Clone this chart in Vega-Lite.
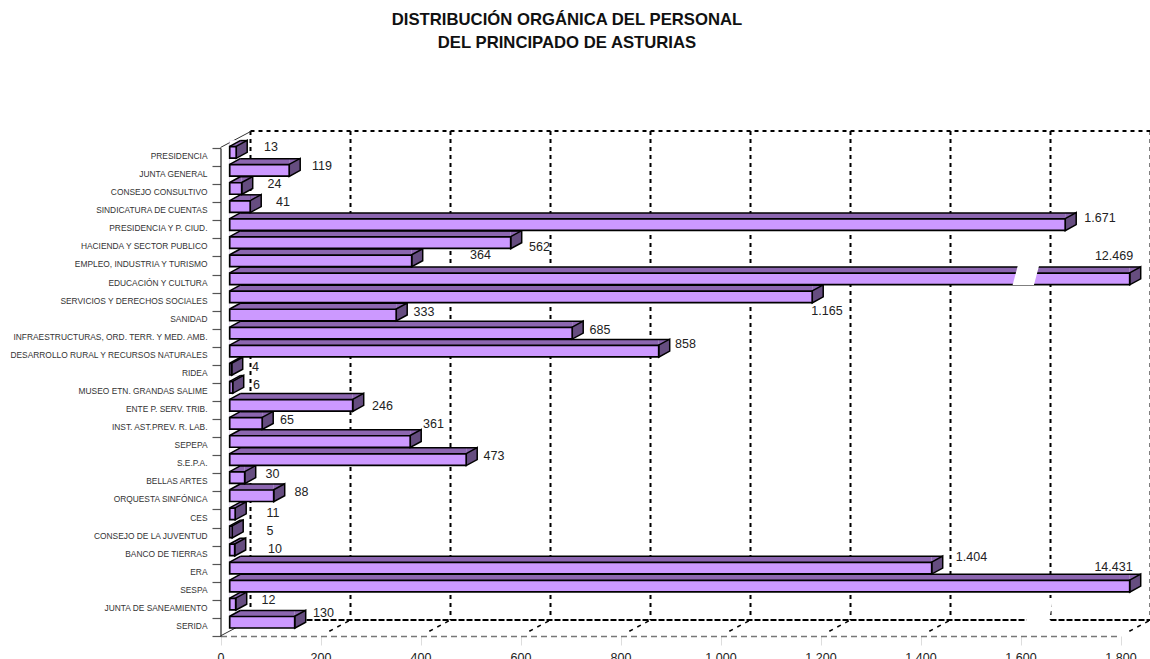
{"$schema":"https://vega.github.io/schema/vega-lite/v6.json","width":1150,"height":659,"padding":0,"autosize":{"type":"none"},"background":"white",
"config":{"view":{"stroke":null},"axisX":{"title":null},"axisY":{"title":null},"locale":{"number":{"decimal":",","thousands":".","grouping":[3],"currency":["","€"]}}},
"title":{"text":["DISTRIBUCIÓN ORGÁNICA DEL PERSONAL","DEL PRINCIPADO DE ASTURIAS"],"font":"Liberation Sans","fontSize":16.7,"fontWeight":"bold","color":"#111","lineHeight":23,"anchor":"middle","frame":"group","dx":-8,"offset":-68.5,"baseline":"alphabetic"},
"datasets":{"rows":[
{"name":"PRESIDENCIA","personal":13},{"name":"JUNTA GENERAL","personal":119},{"name":"CONSEJO CONSULTIVO","personal":24},{"name":"SINDICATURA DE CUENTAS","personal":41},{"name":"PRESIDENCIA Y P. CIUD.","personal":1671},{"name":"HACIENDA Y SECTOR PUBLICO","personal":562},{"name":"EMPLEO, INDUSTRIA Y TURISMO","personal":364},{"name":"EDUCACIÓN Y CULTURA","personal":12469},{"name":"SERVICIOS Y DERECHOS SOCIALES","personal":1165},{"name":"SANIDAD","personal":333},{"name":"INFRAESTRUCTURAS, ORD. TERR. Y MED. AMB.","personal":685},{"name":"DESARROLLO RURAL Y RECURSOS NATURALES","personal":858},{"name":"RIDEA","personal":4},{"name":"MUSEO ETN. GRANDAS SALIME","personal":6},{"name":"ENTE P. SERV. TRIB.","personal":246},{"name":"INST. AST.PREV. R. LAB.","personal":65},{"name":"SEPEPA","personal":361},{"name":"S.E.P.A.","personal":473},{"name":"BELLAS ARTES","personal":30},{"name":"ORQUESTA SINFÓNICA","personal":88},{"name":"CES","personal":11},{"name":"CONSEJO DE LA JUVENTUD","personal":5},{"name":"BANCO DE TIERRAS","personal":10},{"name":"ERA","personal":1404},{"name":"SESPA","personal":14431},{"name":"JUNTA DE SANEAMIENTO","personal":12},{"name":"SERIDA","personal":130}],
"ticks":[{"tick":0},{"tick":200},{"tick":400},{"tick":600},{"tick":800},{"tick":1000},{"tick":1200},{"tick":1400},{"tick":1600},{"tick":1800}]},
"data":{"name":"rows"},
"encoding":{
"y":{"field":"name","type":"nominal","sort":null,"title":null,"scale":{"domain":["PRESIDENCIA","JUNTA GENERAL","CONSEJO CONSULTIVO","SINDICATURA DE CUENTAS","PRESIDENCIA Y P. CIUD.","HACIENDA Y SECTOR PUBLICO","EMPLEO, INDUSTRIA Y TURISMO","EDUCACIÓN Y CULTURA","SERVICIOS Y DERECHOS SOCIALES","SANIDAD","INFRAESTRUCTURAS, ORD. TERR. Y MED. AMB.","DESARROLLO RURAL Y RECURSOS NATURALES","RIDEA","MUSEO ETN. GRANDAS SALIME","ENTE P. SERV. TRIB.","INST. AST.PREV. R. LAB.","SEPEPA","S.E.P.A.","BELLAS ARTES","ORQUESTA SINFÓNICA","CES","CONSEJO DE LA JUVENTUD","BANCO DE TIERRAS","ERA","SESPA","JUNTA DE SANEAMIENTO","SERIDA"],"range":[148,636],"paddingInner":0,"paddingOuter":0},"axis":{"offset":-220.5,"tickBand":"extent","tickSize":8.5,"tickColor":"#555","tickWidth":1.2,"domain":true,"domainColor":"#222","domainWidth":1.2,"labelFont":"Liberation Sans","labelFontSize":8.4,"labelColor":"#333","labelPadding":5,"labelOffset":-1.5,"labelLimit":300,"labelOverlap":false,"grid":false}},
"x":{"field":"personal","type":"quantitative","title":null,"stack":null,"scale":{"domain":[0,1800],"range":[220.5,1120.5],"clamp":true,"nice":false,"zero":false},"axis":{"offset":-23,"values":[0,200,400,600,800,1000,1200,1400,1600,1800],"format":",.0f","tickSize":9,"tickColor":"#ddd","domain":true,"domainColor":"#777","domainDash":[6,4],"domainWidth":1.6,"labelFont":"Liberation Sans","labelFontSize":12.5,"labelColor":"#222","labelPadding":6,"labelFlush":false,"grid":false}}},
"layer":[
{"data":{"name":"ticks"},"mark":{"type":"rule","xOffset":30,"yOffset":-26,"y2Offset":-7,"stroke":"#000","strokeWidth":2,"strokeDash":[4,4]},"encoding":{"x":{"field":"tick","type":"quantitative"},"y":{"datum":"PRESIDENCIA","type":"nominal"},"y2":{"datum":"SERIDA"}}},
{"transform":[{"filter":{"field":"name","equal":"PRESIDENCIA"}}],"mark":{"type":"rule","xOffset":30,"x2Offset":30,"yOffset":-26,"stroke":"#000","strokeWidth":2,"strokeDash":[4,4]},"encoding":{"x":{"datum":0,"type":"quantitative"},"x2":{"datum":1800}}},
{"transform":[{"filter":{"field":"name","equal":"SERIDA"}}],"mark":{"type":"rule","xOffset":30,"x2Offset":30,"yOffset":-7,"stroke":"#000","strokeWidth":2,"strokeDash":[6,2]},"encoding":{"x":{"datum":0,"type":"quantitative"},"x2":{"datum":1800}}},
{"data":{"name":"ticks"},"transform":[{"filter":"datum.tick>0"}],"mark":{"type":"point","shape":"M-1 .53L1 -.53","size":900,"xOffset":15,"yOffset":1,"filled":false,"stroke":"#000","strokeWidth":1.5,"strokeDash":[0,10,4,5,4,5,4,5],"opacity":1},"encoding":{"x":{"field":"tick","type":"quantitative"},"y":{"datum":"SERIDA","type":"nominal"}}},
{"transform":[{"filter":{"field":"name","equal":"PRESIDENCIA"}}],"mark":{"type":"point","shape":"M-1 .53L1 -.53","size":900,"xOffset":15,"yOffset":-17.5,"filled":false,"stroke":"#333","strokeWidth":1,"opacity":1},"encoding":{"x":{"datum":0,"type":"quantitative"}}},
{"transform":[{"filter":{"field":"name","equal":"SERIDA"}}],"mark":{"type":"point","shape":"M-1 .53L1 -.53","size":900,"xOffset":15,"yOffset":1,"filled":false,"stroke":"#333","strokeWidth":1,"opacity":1},"encoding":{"x":{"datum":0,"type":"quantitative"}}},
{"transform":[{"filter":{"field":"name","equal":"SESPA"}}],"mark":{"type":"point","shape":"M-.78 1L.5 1L.83 -1L-.44 -1Z","size":1296,"xOffset":17.5,"yOffset":25.2,"filled":true,"fill":"#fff","stroke":null,"opacity":1},"encoding":{"x":{"datum":1600,"type":"quantitative"}}},
{"mark":{"type":"bar","size":6,"xOffset":9.2,"x2Offset":9.2,"yOffset":-13.45,"y2Offset":-13.45,"fill":"#8C66B0","stroke":null},"encoding":{"x2":{"datum":0}}},
{"mark":{"type":"point","shape":"M0 -1L.917 -1L0 -.5Z","size":576,"xOffset":9.2,"yOffset":-4.7,"filled":true,"fill":"#8C66B0","stroke":null,"opacity":1}},
{"mark":{"type":"point","shape":"M0 -.5L0 -1L.917 -1Z","size":576,"xOffset":9.2,"yOffset":-4.7,"filled":true,"fill":"#fff","stroke":null,"opacity":1},"encoding":{"x":{"datum":0,"type":"quantitative"}}},
{"mark":{"type":"point","shape":"M0 -.5L.917 -1","size":576,"xOffset":9.2,"yOffset":-4.7,"filled":false,"stroke":"#000","strokeWidth":1.5,"opacity":1},"encoding":{"x":{"datum":0,"type":"quantitative"}}},
{"mark":{"type":"rule","xOffset":20.2,"x2Offset":20.2,"yOffset":-16.45,"stroke":"#000","strokeWidth":1.5},"encoding":{"x2":{"datum":0}}},
{"mark":{"type":"point","shape":"M0 -.5L.917 -1L.917 0L0 .5Z","size":576,"xOffset":9.2,"yOffset":-4.7,"filled":true,"fill":"#664D80","stroke":"#000","strokeWidth":1.5,"opacity":1}},
{"mark":{"type":"bar","size":11.5,"xOffset":9.2,"x2Offset":9.2,"yOffset":-4.7,"y2Offset":-4.7,"fill":"#CC99FF","stroke":"#000","strokeWidth":1.7},"encoding":{"x2":{"datum":0}}},
{"transform":[{"filter":{"field":"name","equal":"EDUCACIÓN Y CULTURA"}}],"mark":{"type":"point","shape":"M-.89 .65L.53 .65L.87 -.64L-.55 -.64Z","size":900,"xOffset":15.5,"yOffset":-8.3,"filled":true,"fill":"#fff","stroke":null,"opacity":1},"encoding":{"x":{"datum":1580,"type":"quantitative"}}},
{"transform":[{"filter":{"field":"name","oneOf":["SANIDAD","INFRAESTRUCTURAS, ORD. TERR. Y MED. AMB.","S.E.P.A.","BELLAS ARTES","ORQUESTA SINFÓNICA"]}}],"mark":{"type":"text","dx":37,"dy":-8,"font":"Liberation Sans","fontSize":12.5,"fill":"#222"},"encoding":{"text":{"field":"personal","type":"quantitative","format":",.0f"}}},
{"transform":[{"filter":{"field":"name","oneOf":["JUNTA GENERAL","CONSEJO CONSULTIVO","SINDICATURA DE CUENTAS","JUNTA DE SANEAMIENTO"]}}],"mark":{"type":"text","dx":42,"dy":-9,"font":"Liberation Sans","fontSize":12.5,"fill":"#222"},"encoding":{"text":{"field":"personal","type":"quantitative","format":",.0f"}}},
{"transform":[{"filter":{"field":"name","equal":"PRESIDENCIA"}}],"mark":{"type":"text","dx":44,"dy":-10,"font":"Liberation Sans","fontSize":12.5,"fill":"#222"},"encoding":{"text":{"field":"personal","type":"quantitative","format":",.0f"}}},
{"transform":[{"filter":{"field":"name","equal":"PRESIDENCIA Y P. CIUD."}}],"mark":{"type":"text","dx":44,"dy":-11,"font":"Liberation Sans","fontSize":12.5,"fill":"#222"},"encoding":{"text":{"field":"personal","type":"quantitative","format":",.0f"}}},
{"transform":[{"filter":{"field":"name","oneOf":["RIDEA","MUSEO ETN. GRANDAS SALIME"]}}],"mark":{"type":"text","dx":33,"dy":-7,"font":"Liberation Sans","fontSize":12.5,"fill":"#222"},"encoding":{"text":{"field":"personal","type":"quantitative","format":",.0f"}}},
{"transform":[{"filter":{"field":"name","equal":"INST. AST.PREV. R. LAB."}}],"mark":{"type":"text","dx":34,"dy":-8,"font":"Liberation Sans","fontSize":12.5,"fill":"#222"},"encoding":{"text":{"field":"personal","type":"quantitative","format":",.0f"}}},
{"transform":[{"filter":{"field":"name","oneOf":["CES","CONSEJO DE LA JUVENTUD"]}}],"mark":{"type":"text","dx":47,"dy":-6,"font":"Liberation Sans","fontSize":12.5,"fill":"#222"},"encoding":{"text":{"field":"personal","type":"quantitative","format":",.0f"}}},
{"transform":[{"filter":{"field":"name","equal":"BANCO DE TIERRAS"}}],"mark":{"type":"text","dx":49.5,"dy":-6,"font":"Liberation Sans","fontSize":12.5,"fill":"#222"},"encoding":{"text":{"field":"personal","type":"quantitative","format":",.0f"}}},
{"transform":[{"filter":{"field":"name","equal":"HACIENDA Y SECTOR PUBLICO"}}],"mark":{"type":"text","dx":38,"dy":0,"font":"Liberation Sans","fontSize":12.5,"fill":"#222"},"encoding":{"text":{"field":"personal","type":"quantitative","format":",.0f"}}},
{"transform":[{"filter":{"field":"name","equal":"EMPLEO, INDUSTRIA Y TURISMO"}}],"mark":{"type":"text","dx":78,"dy":-10,"font":"Liberation Sans","fontSize":12.5,"fill":"#222"},"encoding":{"text":{"field":"personal","type":"quantitative","format":",.0f"}}},
{"transform":[{"filter":{"field":"name","equal":"EDUCACIÓN Y CULTURA"}}],"mark":{"type":"text","dx":-6.5,"dy":-28,"font":"Liberation Sans","fontSize":12.5,"fill":"#222"},"encoding":{"text":{"field":"personal","type":"quantitative","format":",.0f"}}},
{"transform":[{"filter":{"field":"name","equal":"SERVICIOS Y DERECHOS SOCIALES"}}],"mark":{"type":"text","dx":24,"dy":9,"font":"Liberation Sans","fontSize":12.5,"fill":"#222"},"encoding":{"text":{"field":"personal","type":"quantitative","format":",.0f"}}},
{"transform":[{"filter":{"field":"name","equal":"DESARROLLO RURAL Y RECURSOS NATURALES"}}],"mark":{"type":"text","dx":36,"dy":-12,"font":"Liberation Sans","fontSize":12.5,"fill":"#222"},"encoding":{"text":{"field":"personal","type":"quantitative","format":",.0f"}}},
{"transform":[{"filter":{"field":"name","equal":"ENTE P. SERV. TRIB."}}],"mark":{"type":"text","dx":39,"dy":-4,"font":"Liberation Sans","fontSize":12.5,"fill":"#222"},"encoding":{"text":{"field":"personal","type":"quantitative","format":",.0f"}}},
{"transform":[{"filter":{"field":"name","equal":"SEPEPA"}}],"mark":{"type":"text","dx":32.5,"dy":-22,"font":"Liberation Sans","fontSize":12.5,"fill":"#222"},"encoding":{"text":{"field":"personal","type":"quantitative","format":",.0f"}}},
{"transform":[{"filter":{"field":"name","equal":"ERA"}}],"mark":{"type":"text","dx":49,"dy":-16,"font":"Liberation Sans","fontSize":12.5,"fill":"#222"},"encoding":{"text":{"field":"personal","type":"quantitative","format":",.0f"}}},
{"transform":[{"filter":{"field":"name","equal":"SESPA"}}],"mark":{"type":"text","dx":-7,"dy":-24,"font":"Liberation Sans","fontSize":12.5,"fill":"#222"},"encoding":{"text":{"field":"personal","type":"quantitative","format":",.0f"}}},
{"transform":[{"filter":{"field":"name","equal":"SERIDA"}}],"mark":{"type":"text","dx":38,"dy":-14,"font":"Liberation Sans","fontSize":12.5,"fill":"#222"},"encoding":{"text":{"field":"personal","type":"quantitative","format":",.0f"}}}
]}
